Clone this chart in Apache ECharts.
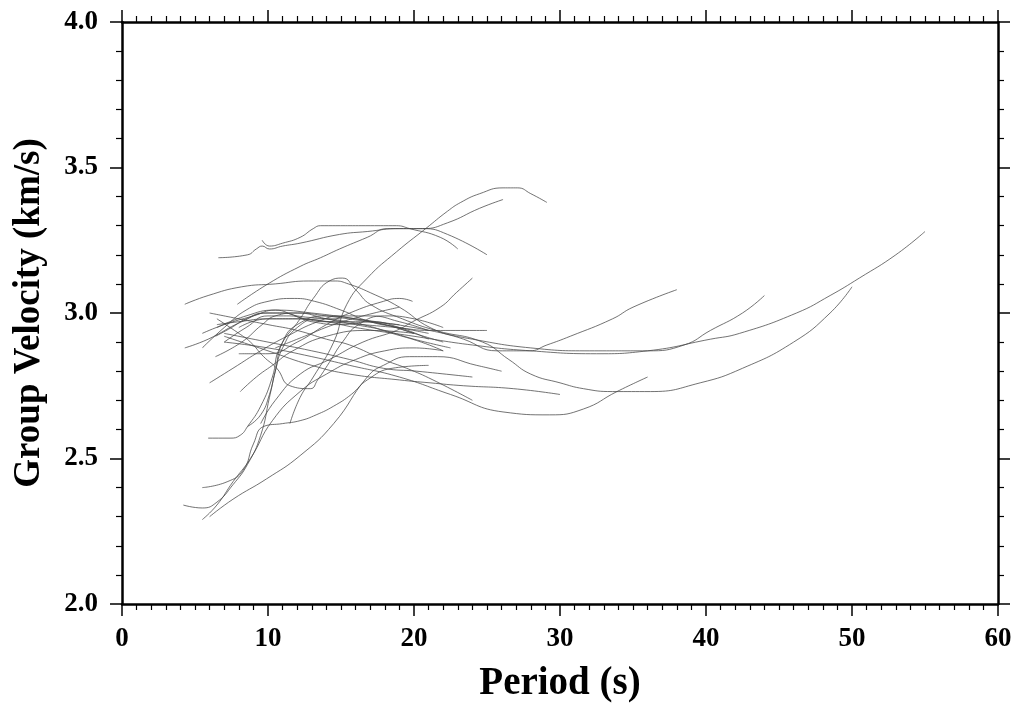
<!DOCTYPE html>
<html>
<head>
<meta charset="utf-8">
<script src="https://cdn.jsdelivr.net/npm/echarts@6/dist/echarts.min.js"></script>
<style>
    html, body { margin: 0; padding: 0; background: #fff; }
    #chart { width: 1021px; height: 708px; }
</style>
</head>
<body>
<div id="chart"></div>
<script>

// 每条频散曲线: [周期(s), 群速度(km/s)]
var c01 = [[6.6,3.19],[8.6,3.20],[9.2,3.22],[9.6,3.23],[10.1,3.22],[11,3.23],[12.2,3.24],[14.9,3.27],[16.8,3.28],[19,3.29],[20.6,3.29],[22.3,3.27],[25,3.20]];
var c02 = [[9.6,3.25],[10.1,3.23],[11,3.24],[12.2,3.26],[13.1,3.29],[13.6,3.30],[17,3.30],[18.8,3.30],[19.7,3.29],[21.8,3.26],[23,3.22]];
var c03 = [[11.5,2.62],[12.2,2.71],[13.1,2.78],[14.5,2.90],[15.4,3.03],[16.8,3.12],[18.8,3.21],[20.8,3.29],[22.3,3.35],[23.2,3.38],[24.5,3.41],[26.1,3.43],[27.1,3.43],[28,3.41],[29.1,3.38]];
var c04 = [[7.9,3.03],[10,3.10],[12.2,3.16],[13.6,3.19],[14.9,3.22],[16.8,3.26],[18.2,3.29],[19.5,3.29],[20.6,3.29],[22.3,3.31],[24.5,3.36],[26.1,3.39]];
var c05 = [[4.3,3.03],[5.9,3.06],[8.2,3.09],[10.5,3.10],[12.8,3.11],[14.6,3.11],[15.5,3.10],[17,3.07],[19,3.02],[21.1,2.95],[23.4,2.91],[25.7,2.87],[27.9,2.87],[29.1,2.89],[30.7,2.92],[33.6,2.98],[35,3.02],[38,3.08]];
var c06 = [[5.9,2.57],[7.4,2.57],[8.1,2.58],[8.6,2.61],[9.5,2.68],[10.3,2.78],[10.8,2.88],[12.2,2.98],[13.1,3.05],[14.2,3.11],[15.1,3.12],[16,3.08],[17,3.03],[19.2,2.98],[21.5,2.94],[24.7,2.90],[26.5,2.84],[28,2.79],[30,2.76],[31.6,2.74],[33.6,2.73],[36.2,2.73],[39.6,2.76],[42.5,2.81],[46,2.90],[48.5,3.00],[50,3.09]];
var c07 = [[8,2.86],[10,2.86],[12,2.90],[14,2.96],[15.6,3.00],[17.9,3.04],[19,3.05],[19.9,3.04]];
var c08 = [[10.5,2.88],[12.5,2.92],[14.5,2.96],[16.5,2.99],[19,3.02]];
var c09 = [[9.5,2.62],[10.5,2.70],[12.2,2.79],[14.2,2.84],[16.5,2.90],[18.8,2.94],[19.9,2.97],[21.8,3.02],[22.9,3.07],[24,3.12]];
var c10 = [[6.5,2.96],[8,2.97],[10,2.98],[12,2.98],[14.2,2.97],[18.8,2.95],[21.1,2.94],[25,2.94]];
var c11 = [[6,2.30],[7.6,2.36],[9.9,2.43],[12.2,2.51],[14.5,2.62],[16.8,2.78],[17.9,2.82],[19.7,2.85],[21.6,2.85],[24.3,2.82],[26,2.80]];
var c12 = [[7,2.93],[10,2.90],[13,2.87],[15.6,2.84],[17.9,2.81],[20.2,2.80],[24,2.78]];
var c13 = [[6,3.00],[8,2.98],[10,2.96],[12,2.94],[14,2.91],[15.6,2.89],[17.9,2.84],[19.5,2.81],[21.3,2.77],[24,2.70]];
var c14 = [[7,2.92],[10,2.87],[13,2.82],[15.6,2.79],[19,2.77],[21.1,2.76],[23.4,2.75],[26.8,2.74],[30,2.72]];
var c15 = [[6.5,2.98],[8,2.93],[8.8,2.90],[9.7,2.85],[10.6,2.81],[11.5,2.75],[12.9,2.74],[13.4,2.77],[14.2,2.83],[15.1,2.90],[16.2,2.96],[18,2.99],[20,2.98],[22,2.95]];
var c16 = [[8,2.95],[10,2.98],[12,2.98],[14,2.97],[16,2.95],[20,2.92],[24,2.89],[28,2.87],[32.5,2.86],[36,2.87],[40.3,2.91],[42.3,2.93],[46.2,3.00],[48.5,3.06],[50.5,3.12],[53,3.20],[55,3.28]];
var c17 = [[6.5,2.95],[8.5,2.99],[10.5,3.01],[13,3.00],[16,2.98],[20,2.95],[24,2.91],[28,2.88],[32,2.87],[36,2.87],[38.5,2.89],[40.3,2.94],[42.5,3.00],[44,3.06]];
var c18 = [[7,2.90],[10,2.88],[13,2.85],[15.6,2.82],[19,2.78],[22.5,2.72],[26.1,2.66],[29.3,2.65],[31.6,2.67],[33.9,2.73],[36,2.78]];
var c19 = [[6.4,2.92],[7.5,2.95],[8.5,2.98],[9.8,3.00],[11,3.00],[12.5,2.98],[14,2.97],[16,2.97],[18,2.96],[20,2.93],[22,2.90]];
var c20 = [[7,2.90],[8.5,2.95],[10,2.99],[11.5,2.99],[13,2.97],[15,2.96],[17,2.97],[19,2.95],[21,2.91]];
var c21 = [[5.5,2.93],[7,2.96],[9,2.99],[10.5,3.01],[12,2.99],[14,2.98],[16.5,2.96],[18.5,2.93],[20.5,2.90],[22,2.87]];
var c22 = [[4.2,2.34],[5.5,2.33],[6.5,2.35],[7.6,2.41],[8.6,2.48],[9.5,2.58],[10.1,2.71],[10.5,2.80],[11,2.90],[12,2.96],[14,2.99],[16,2.98],[18,2.96],[20,2.93]];
var c23 = [[5.5,2.40],[7.2,2.42],[8.3,2.46],[9,2.55],[9.7,2.61],[11,2.62],[12.2,2.63],[13.3,2.65],[14.5,2.68],[15.7,2.72],[16.8,2.77],[18.5,2.81],[21,2.82]];
var c24 = [[5.5,2.29],[6.5,2.34],[7.6,2.42],[8.8,2.50],[10.3,2.63],[12.2,2.73],[14,2.79],[16,2.84],[18,2.87],[20,2.88],[22,2.87]];
var c25 = [[5.5,2.88],[7,2.95],[8.5,3.01],[10,3.04],[11.8,3.05],[13.2,3.04],[15,3.01],[17,2.97],[19,2.95],[21,2.93]];
var c26 = [[4.3,2.88],[5.9,2.91],[8.2,2.97],[10,3.00],[12,3.00],[14,2.98],[16,2.96],[18,2.94],[20,2.91],[22.5,2.88]];
var c27 = [[6.4,2.85],[8.2,2.90],[9.6,2.96],[10.5,2.99],[12,3.00],[14,2.99],[17,2.97],[19,2.96]];
var c28 = [[6,2.76],[7.6,2.81],[9.5,2.87],[11.3,2.92],[13.4,2.97],[15,2.99],[17,2.99],[19,2.97],[21,2.94]];
var c29 = [[8.1,2.73],[9.2,2.78],[10.3,2.82],[11.7,2.87],[14,2.92],[17,2.94],[20,2.93]];
var c30 = [[8.6,2.61],[9.5,2.65],[10.1,2.72],[10.5,2.80],[11,2.88],[12,2.95],[13.5,2.98],[15,2.98]];

var curves = [c01, c02, c03, c04, c05, c06, c07, c08, c09, c10,
              c11, c12, c13, c14, c15, c16, c17, c18, c19, c20,
              c21, c22, c23, c24, c25, c26, c27, c28, c29, c30];

var periodRange = [0, 60];
var velocityRange = [2.0, 4.0];

var font = 'Liberation Serif';
var frameLine = { show: true, onZero: false, lineStyle: { color: '#000', width: 2.5 } };

function axisX(pos, showLabel) {
    return {
        type: 'value',
        position: pos,
        min: periodRange[0],
        max: periodRange[1],
        interval: 10,
        name: showLabel ? 'Period (s)' : '',
        nameLocation: 'middle',
        nameGap: 60,
        nameTextStyle: { fontFamily: font, fontWeight: 'bold', fontSize: 39, color: '#000' },
        axisLine: frameLine,
        axisTick: { show: true, inside: false, length: 12, lineStyle: { color: '#000', width: 1.5 } },
        minorTick: { show: true, splitNumber: 10, length: 6, lineStyle: { color: '#000', width: 1.2 } },
        axisLabel: {
            show: showLabel,
            margin: 22,
            fontFamily: font, fontWeight: 'bold', fontSize: 27, color: '#000'
        },
        splitLine: { show: false },
        minorSplitLine: { show: false }
    };
}

function axisY(pos, showLabel) {
    return {
        type: 'value',
        position: pos,
        min: velocityRange[0],
        max: velocityRange[1],
        interval: 0.5,
        name: showLabel ? 'Group Velocity (km/s)' : '',
        nameLocation: 'middle',
        nameGap: 74,
        nameTextStyle: { fontFamily: font, fontWeight: 'bold', fontSize: 37, color: '#000' },
        axisLine: frameLine,
        axisTick: { show: true, inside: false, length: 12, lineStyle: { color: '#000', width: 1.5 } },
        minorTick: { show: true, splitNumber: 5, length: 6, lineStyle: { color: '#000', width: 1.2 } },
        axisLabel: {
            show: showLabel,
            margin: 24,
            fontFamily: font, fontWeight: 'bold', fontSize: 27, color: '#000',
            formatter: function (v) { return v.toFixed(1); }
        },
        splitLine: { show: false },
        minorSplitLine: { show: false }
    };
}

var series = curves.map(function (pts) {
    return {
        type: 'line',
        data: pts,
        xAxisIndex: 0,
        yAxisIndex: 0,
        showSymbol: false,
        symbol: 'none',
        smooth: 0.5,
        silent: true,
        lineStyle: { color: '#444', width: 0.75 }
    };
});

var chart = echarts.init(document.getElementById('chart'), null, { renderer: 'canvas' });
chart.setOption({
    animation: false,
    backgroundColor: '#fff',
    grid: { left: 122, right: 23, top: 22, bottom: 101, containLabel: false },
    xAxis: [axisX('bottom', true), axisX('top', false)],
    yAxis: [axisY('left', true), axisY('right', false)],
    series: series
});
</script>
</body>
</html>
